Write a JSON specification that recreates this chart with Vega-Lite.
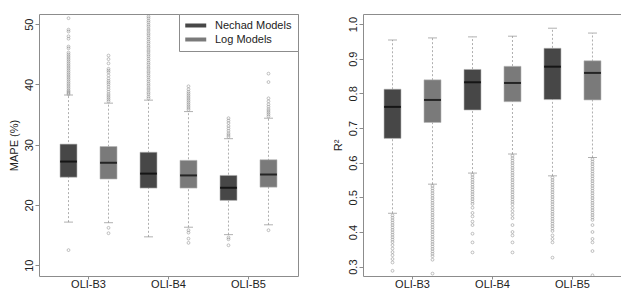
{
  "$schema": "https://vega.github.io/schema/vega-lite/v6.json",
  "padding": {"left": 7, "top": 13, "right": 0, "bottom": 0},
  "spacing": 32,
  "background": "white",
  "config": {
    "font": "Liberation Sans",
    "view": {"stroke": "#8c8c8c", "strokeWidth": 1},
    "axis": {"domain": false, "grid": false, "tickColor": "#8c8c8c", "labelColor": "#222", "titleColor": "#222", "labelFontSize": 11, "titleFontSize": 11, "titleFontWeight": "normal", "labelFont": "Liberation Sans", "titleFont": "Liberation Sans", "labelOverlap": false}
  },
  "resolve": {"scale": {"color": "independent"}},
  "datasets": {
    "mapeBox": [
      {"b": "OLI-B3", "m": "Nechad Models", "lo": 17.15, "q1": 24.6, "med": 27.2, "q3": 30.1, "hi": 38.25},
      {"b": "OLI-B3", "m": "Log Models", "lo": 17.05, "q1": 24.3, "med": 27.0, "q3": 29.7, "hi": 36.9},
      {"b": "OLI-B4", "m": "Nechad Models", "lo": 14.7, "q1": 22.8, "med": 25.2, "q3": 28.75, "hi": 37.4},
      {"b": "OLI-B4", "m": "Log Models", "lo": 16.3, "q1": 22.8, "med": 24.9, "q3": 27.4, "hi": 35.5},
      {"b": "OLI-B5", "m": "Nechad Models", "lo": 15.07, "q1": 20.75, "med": 22.85, "q3": 24.9, "hi": 31.0},
      {"b": "OLI-B5", "m": "Log Models", "lo": 16.7, "q1": 22.95, "med": 25.05, "q3": 27.5, "hi": 34.4}
    ],
    "r2Box": [
      {"b": "OLI-B3", "m": "Nechad Models", "lo": 0.454, "q1": 0.670, "med": 0.761, "q3": 0.812, "hi": 0.954},
      {"b": "OLI-B3", "m": "Log Models", "lo": 0.538, "q1": 0.716, "med": 0.781, "q3": 0.839, "hi": 0.960},
      {"b": "OLI-B4", "m": "Nechad Models", "lo": 0.570, "q1": 0.752, "med": 0.832, "q3": 0.869, "hi": 0.963},
      {"b": "OLI-B4", "m": "Log Models", "lo": 0.625, "q1": 0.776, "med": 0.830, "q3": 0.878, "hi": 0.965},
      {"b": "OLI-B5", "m": "Nechad Models", "lo": 0.562, "q1": 0.782, "med": 0.877, "q3": 0.930, "hi": 0.988},
      {"b": "OLI-B5", "m": "Log Models", "lo": 0.615, "q1": 0.781, "med": 0.859, "q3": 0.894, "hi": 0.974}
    ],
    "mapeOut": [
      {"b":"OLI-B3","m":"Nechad Models","v":38.4},{"b":"OLI-B3","m":"Nechad Models","v":38.6},{"b":"OLI-B3","m":"Nechad Models","v":38.8},{"b":"OLI-B3","m":"Nechad Models","v":39.0},{"b":"OLI-B3","m":"Nechad Models","v":39.3},{"b":"OLI-B3","m":"Nechad Models","v":39.6},{"b":"OLI-B3","m":"Nechad Models","v":39.9},{"b":"OLI-B3","m":"Nechad Models","v":40.2},{"b":"OLI-B3","m":"Nechad Models","v":40.5},{"b":"OLI-B3","m":"Nechad Models","v":40.8},{"b":"OLI-B3","m":"Nechad Models","v":41.1},{"b":"OLI-B3","m":"Nechad Models","v":41.4},{"b":"OLI-B3","m":"Nechad Models","v":41.7},{"b":"OLI-B3","m":"Nechad Models","v":42.0},{"b":"OLI-B3","m":"Nechad Models","v":42.3},{"b":"OLI-B3","m":"Nechad Models","v":42.6},{"b":"OLI-B3","m":"Nechad Models","v":42.9},{"b":"OLI-B3","m":"Nechad Models","v":43.2},{"b":"OLI-B3","m":"Nechad Models","v":43.5},{"b":"OLI-B3","m":"Nechad Models","v":43.8},{"b":"OLI-B3","m":"Nechad Models","v":44.1},{"b":"OLI-B3","m":"Nechad Models","v":44.4},{"b":"OLI-B3","m":"Nechad Models","v":44.7},{"b":"OLI-B3","m":"Nechad Models","v":45.0},{"b":"OLI-B3","m":"Nechad Models","v":45.3},{"b":"OLI-B3","m":"Nechad Models","v":46.0},{"b":"OLI-B3","m":"Nechad Models","v":46.3},{"b":"OLI-B3","m":"Nechad Models","v":47.6},{"b":"OLI-B3","m":"Nechad Models","v":48.0},{"b":"OLI-B3","m":"Nechad Models","v":48.8},{"b":"OLI-B3","m":"Nechad Models","v":49.1},{"b":"OLI-B3","m":"Nechad Models","v":51.0},{"b":"OLI-B3","m":"Nechad Models","v":12.5},
      {"b":"OLI-B3","m":"Log Models","v":37.2},{"b":"OLI-B3","m":"Log Models","v":37.5},{"b":"OLI-B3","m":"Log Models","v":37.8},{"b":"OLI-B3","m":"Log Models","v":38.1},{"b":"OLI-B3","m":"Log Models","v":38.4},{"b":"OLI-B3","m":"Log Models","v":38.8},{"b":"OLI-B3","m":"Log Models","v":39.2},{"b":"OLI-B3","m":"Log Models","v":39.6},{"b":"OLI-B3","m":"Log Models","v":40.0},{"b":"OLI-B3","m":"Log Models","v":40.3},{"b":"OLI-B3","m":"Log Models","v":40.6},{"b":"OLI-B3","m":"Log Models","v":41.0},{"b":"OLI-B3","m":"Log Models","v":41.5},{"b":"OLI-B3","m":"Log Models","v":42.0},{"b":"OLI-B3","m":"Log Models","v":42.3},{"b":"OLI-B3","m":"Log Models","v":42.6},{"b":"OLI-B3","m":"Log Models","v":43.5},{"b":"OLI-B3","m":"Log Models","v":44.2},{"b":"OLI-B3","m":"Log Models","v":44.8},{"b":"OLI-B3","m":"Log Models","v":16.2},{"b":"OLI-B3","m":"Log Models","v":15.3},
      {"b":"OLI-B4","m":"Nechad Models","v":37.7},{"b":"OLI-B4","m":"Nechad Models","v":38.0},{"b":"OLI-B4","m":"Nechad Models","v":38.4},{"b":"OLI-B4","m":"Nechad Models","v":38.7},{"b":"OLI-B4","m":"Nechad Models","v":39.1},{"b":"OLI-B4","m":"Nechad Models","v":39.4},{"b":"OLI-B4","m":"Nechad Models","v":39.8},{"b":"OLI-B4","m":"Nechad Models","v":40.1},{"b":"OLI-B4","m":"Nechad Models","v":40.5},{"b":"OLI-B4","m":"Nechad Models","v":40.8},{"b":"OLI-B4","m":"Nechad Models","v":41.2},{"b":"OLI-B4","m":"Nechad Models","v":41.5},{"b":"OLI-B4","m":"Nechad Models","v":41.9},{"b":"OLI-B4","m":"Nechad Models","v":42.2},{"b":"OLI-B4","m":"Nechad Models","v":42.6},{"b":"OLI-B4","m":"Nechad Models","v":42.9},{"b":"OLI-B4","m":"Nechad Models","v":43.3},{"b":"OLI-B4","m":"Nechad Models","v":43.6},{"b":"OLI-B4","m":"Nechad Models","v":44.0},{"b":"OLI-B4","m":"Nechad Models","v":44.3},{"b":"OLI-B4","m":"Nechad Models","v":44.7},{"b":"OLI-B4","m":"Nechad Models","v":45.0},{"b":"OLI-B4","m":"Nechad Models","v":45.4},{"b":"OLI-B4","m":"Nechad Models","v":45.7},{"b":"OLI-B4","m":"Nechad Models","v":46.1},{"b":"OLI-B4","m":"Nechad Models","v":46.4},{"b":"OLI-B4","m":"Nechad Models","v":46.8},{"b":"OLI-B4","m":"Nechad Models","v":47.1},{"b":"OLI-B4","m":"Nechad Models","v":47.5},{"b":"OLI-B4","m":"Nechad Models","v":47.8},{"b":"OLI-B4","m":"Nechad Models","v":48.2},{"b":"OLI-B4","m":"Nechad Models","v":48.5},{"b":"OLI-B4","m":"Nechad Models","v":48.9},{"b":"OLI-B4","m":"Nechad Models","v":49.2},{"b":"OLI-B4","m":"Nechad Models","v":49.6},{"b":"OLI-B4","m":"Nechad Models","v":49.9},{"b":"OLI-B4","m":"Nechad Models","v":50.3},{"b":"OLI-B4","m":"Nechad Models","v":50.6},{"b":"OLI-B4","m":"Nechad Models","v":51.0},{"b":"OLI-B4","m":"Nechad Models","v":51.3},
      {"b":"OLI-B4","m":"Log Models","v":35.8},{"b":"OLI-B4","m":"Log Models","v":36.1},{"b":"OLI-B4","m":"Log Models","v":36.4},{"b":"OLI-B4","m":"Log Models","v":36.7},{"b":"OLI-B4","m":"Log Models","v":37.0},{"b":"OLI-B4","m":"Log Models","v":37.3},{"b":"OLI-B4","m":"Log Models","v":37.6},{"b":"OLI-B4","m":"Log Models","v":37.9},{"b":"OLI-B4","m":"Log Models","v":38.2},{"b":"OLI-B4","m":"Log Models","v":38.5},{"b":"OLI-B4","m":"Log Models","v":38.8},{"b":"OLI-B4","m":"Log Models","v":39.2},{"b":"OLI-B4","m":"Log Models","v":39.7},{"b":"OLI-B4","m":"Log Models","v":15.8},{"b":"OLI-B4","m":"Log Models","v":15.4},{"b":"OLI-B4","m":"Log Models","v":14.4},{"b":"OLI-B4","m":"Log Models","v":13.7},
      {"b":"OLI-B5","m":"Nechad Models","v":31.3},{"b":"OLI-B5","m":"Nechad Models","v":31.6},{"b":"OLI-B5","m":"Nechad Models","v":31.9},{"b":"OLI-B5","m":"Nechad Models","v":32.3},{"b":"OLI-B5","m":"Nechad Models","v":32.7},{"b":"OLI-B5","m":"Nechad Models","v":33.1},{"b":"OLI-B5","m":"Nechad Models","v":33.6},{"b":"OLI-B5","m":"Nechad Models","v":34.0},{"b":"OLI-B5","m":"Nechad Models","v":34.4},{"b":"OLI-B5","m":"Nechad Models","v":14.6},{"b":"OLI-B5","m":"Nechad Models","v":14.3},{"b":"OLI-B5","m":"Nechad Models","v":13.3},
      {"b":"OLI-B5","m":"Log Models","v":34.7},{"b":"OLI-B5","m":"Log Models","v":35.0},{"b":"OLI-B5","m":"Log Models","v":35.3},{"b":"OLI-B5","m":"Log Models","v":35.6},{"b":"OLI-B5","m":"Log Models","v":35.9},{"b":"OLI-B5","m":"Log Models","v":36.3},{"b":"OLI-B5","m":"Log Models","v":36.7},{"b":"OLI-B5","m":"Log Models","v":37.2},{"b":"OLI-B5","m":"Log Models","v":37.7},{"b":"OLI-B5","m":"Log Models","v":40.4},{"b":"OLI-B5","m":"Log Models","v":41.8},{"b":"OLI-B5","m":"Log Models","v":15.8}
    ],
    "r2Out": [
      {"b":"OLI-B3","m":"Nechad Models","v":0.448},{"b":"OLI-B3","m":"Nechad Models","v":0.441},{"b":"OLI-B3","m":"Nechad Models","v":0.434},{"b":"OLI-B3","m":"Nechad Models","v":0.427},{"b":"OLI-B3","m":"Nechad Models","v":0.420},{"b":"OLI-B3","m":"Nechad Models","v":0.413},{"b":"OLI-B3","m":"Nechad Models","v":0.406},{"b":"OLI-B3","m":"Nechad Models","v":0.399},{"b":"OLI-B3","m":"Nechad Models","v":0.392},{"b":"OLI-B3","m":"Nechad Models","v":0.385},{"b":"OLI-B3","m":"Nechad Models","v":0.378},{"b":"OLI-B3","m":"Nechad Models","v":0.371},{"b":"OLI-B3","m":"Nechad Models","v":0.362},{"b":"OLI-B3","m":"Nechad Models","v":0.352},{"b":"OLI-B3","m":"Nechad Models","v":0.342},{"b":"OLI-B3","m":"Nechad Models","v":0.333},{"b":"OLI-B3","m":"Nechad Models","v":0.322},{"b":"OLI-B3","m":"Nechad Models","v":0.312},{"b":"OLI-B3","m":"Nechad Models","v":0.288},
      {"b":"OLI-B3","m":"Log Models","v":0.533},{"b":"OLI-B3","m":"Log Models","v":0.526},{"b":"OLI-B3","m":"Log Models","v":0.519},{"b":"OLI-B3","m":"Log Models","v":0.512},{"b":"OLI-B3","m":"Log Models","v":0.505},{"b":"OLI-B3","m":"Log Models","v":0.498},{"b":"OLI-B3","m":"Log Models","v":0.491},{"b":"OLI-B3","m":"Log Models","v":0.484},{"b":"OLI-B3","m":"Log Models","v":0.477},{"b":"OLI-B3","m":"Log Models","v":0.470},{"b":"OLI-B3","m":"Log Models","v":0.463},{"b":"OLI-B3","m":"Log Models","v":0.456},{"b":"OLI-B3","m":"Log Models","v":0.449},{"b":"OLI-B3","m":"Log Models","v":0.442},{"b":"OLI-B3","m":"Log Models","v":0.435},{"b":"OLI-B3","m":"Log Models","v":0.428},{"b":"OLI-B3","m":"Log Models","v":0.421},{"b":"OLI-B3","m":"Log Models","v":0.414},{"b":"OLI-B3","m":"Log Models","v":0.407},{"b":"OLI-B3","m":"Log Models","v":0.400},{"b":"OLI-B3","m":"Log Models","v":0.393},{"b":"OLI-B3","m":"Log Models","v":0.386},{"b":"OLI-B3","m":"Log Models","v":0.379},{"b":"OLI-B3","m":"Log Models","v":0.372},{"b":"OLI-B3","m":"Log Models","v":0.365},{"b":"OLI-B3","m":"Log Models","v":0.358},{"b":"OLI-B3","m":"Log Models","v":0.351},{"b":"OLI-B3","m":"Log Models","v":0.344},{"b":"OLI-B3","m":"Log Models","v":0.337},{"b":"OLI-B3","m":"Log Models","v":0.330},{"b":"OLI-B3","m":"Log Models","v":0.320},{"b":"OLI-B3","m":"Log Models","v":0.280},
      {"b":"OLI-B4","m":"Nechad Models","v":0.565},{"b":"OLI-B4","m":"Nechad Models","v":0.558},{"b":"OLI-B4","m":"Nechad Models","v":0.551},{"b":"OLI-B4","m":"Nechad Models","v":0.544},{"b":"OLI-B4","m":"Nechad Models","v":0.537},{"b":"OLI-B4","m":"Nechad Models","v":0.530},{"b":"OLI-B4","m":"Nechad Models","v":0.523},{"b":"OLI-B4","m":"Nechad Models","v":0.516},{"b":"OLI-B4","m":"Nechad Models","v":0.509},{"b":"OLI-B4","m":"Nechad Models","v":0.502},{"b":"OLI-B4","m":"Nechad Models","v":0.495},{"b":"OLI-B4","m":"Nechad Models","v":0.488},{"b":"OLI-B4","m":"Nechad Models","v":0.481},{"b":"OLI-B4","m":"Nechad Models","v":0.470},{"b":"OLI-B4","m":"Nechad Models","v":0.455},{"b":"OLI-B4","m":"Nechad Models","v":0.445},{"b":"OLI-B4","m":"Nechad Models","v":0.430},{"b":"OLI-B4","m":"Nechad Models","v":0.420},{"b":"OLI-B4","m":"Nechad Models","v":0.395},{"b":"OLI-B4","m":"Nechad Models","v":0.370},{"b":"OLI-B4","m":"Nechad Models","v":0.341},
      {"b":"OLI-B4","m":"Log Models","v":0.620},{"b":"OLI-B4","m":"Log Models","v":0.613},{"b":"OLI-B4","m":"Log Models","v":0.606},{"b":"OLI-B4","m":"Log Models","v":0.599},{"b":"OLI-B4","m":"Log Models","v":0.592},{"b":"OLI-B4","m":"Log Models","v":0.585},{"b":"OLI-B4","m":"Log Models","v":0.578},{"b":"OLI-B4","m":"Log Models","v":0.571},{"b":"OLI-B4","m":"Log Models","v":0.564},{"b":"OLI-B4","m":"Log Models","v":0.557},{"b":"OLI-B4","m":"Log Models","v":0.550},{"b":"OLI-B4","m":"Log Models","v":0.543},{"b":"OLI-B4","m":"Log Models","v":0.536},{"b":"OLI-B4","m":"Log Models","v":0.529},{"b":"OLI-B4","m":"Log Models","v":0.522},{"b":"OLI-B4","m":"Log Models","v":0.515},{"b":"OLI-B4","m":"Log Models","v":0.508},{"b":"OLI-B4","m":"Log Models","v":0.501},{"b":"OLI-B4","m":"Log Models","v":0.494},{"b":"OLI-B4","m":"Log Models","v":0.487},{"b":"OLI-B4","m":"Log Models","v":0.480},{"b":"OLI-B4","m":"Log Models","v":0.470},{"b":"OLI-B4","m":"Log Models","v":0.460},{"b":"OLI-B4","m":"Log Models","v":0.450},{"b":"OLI-B4","m":"Log Models","v":0.440},{"b":"OLI-B4","m":"Log Models","v":0.420},{"b":"OLI-B4","m":"Log Models","v":0.400},{"b":"OLI-B4","m":"Log Models","v":0.390},{"b":"OLI-B4","m":"Log Models","v":0.370},{"b":"OLI-B4","m":"Log Models","v":0.341},
      {"b":"OLI-B5","m":"Nechad Models","v":0.557},{"b":"OLI-B5","m":"Nechad Models","v":0.550},{"b":"OLI-B5","m":"Nechad Models","v":0.543},{"b":"OLI-B5","m":"Nechad Models","v":0.536},{"b":"OLI-B5","m":"Nechad Models","v":0.529},{"b":"OLI-B5","m":"Nechad Models","v":0.522},{"b":"OLI-B5","m":"Nechad Models","v":0.515},{"b":"OLI-B5","m":"Nechad Models","v":0.508},{"b":"OLI-B5","m":"Nechad Models","v":0.501},{"b":"OLI-B5","m":"Nechad Models","v":0.494},{"b":"OLI-B5","m":"Nechad Models","v":0.487},{"b":"OLI-B5","m":"Nechad Models","v":0.480},{"b":"OLI-B5","m":"Nechad Models","v":0.473},{"b":"OLI-B5","m":"Nechad Models","v":0.466},{"b":"OLI-B5","m":"Nechad Models","v":0.459},{"b":"OLI-B5","m":"Nechad Models","v":0.452},{"b":"OLI-B5","m":"Nechad Models","v":0.445},{"b":"OLI-B5","m":"Nechad Models","v":0.438},{"b":"OLI-B5","m":"Nechad Models","v":0.431},{"b":"OLI-B5","m":"Nechad Models","v":0.424},{"b":"OLI-B5","m":"Nechad Models","v":0.417},{"b":"OLI-B5","m":"Nechad Models","v":0.410},{"b":"OLI-B5","m":"Nechad Models","v":0.403},{"b":"OLI-B5","m":"Nechad Models","v":0.390},{"b":"OLI-B5","m":"Nechad Models","v":0.380},{"b":"OLI-B5","m":"Nechad Models","v":0.370},{"b":"OLI-B5","m":"Nechad Models","v":0.326},
      {"b":"OLI-B5","m":"Log Models","v":0.610},{"b":"OLI-B5","m":"Log Models","v":0.603},{"b":"OLI-B5","m":"Log Models","v":0.596},{"b":"OLI-B5","m":"Log Models","v":0.589},{"b":"OLI-B5","m":"Log Models","v":0.582},{"b":"OLI-B5","m":"Log Models","v":0.575},{"b":"OLI-B5","m":"Log Models","v":0.568},{"b":"OLI-B5","m":"Log Models","v":0.561},{"b":"OLI-B5","m":"Log Models","v":0.554},{"b":"OLI-B5","m":"Log Models","v":0.547},{"b":"OLI-B5","m":"Log Models","v":0.540},{"b":"OLI-B5","m":"Log Models","v":0.533},{"b":"OLI-B5","m":"Log Models","v":0.526},{"b":"OLI-B5","m":"Log Models","v":0.519},{"b":"OLI-B5","m":"Log Models","v":0.512},{"b":"OLI-B5","m":"Log Models","v":0.505},{"b":"OLI-B5","m":"Log Models","v":0.498},{"b":"OLI-B5","m":"Log Models","v":0.491},{"b":"OLI-B5","m":"Log Models","v":0.484},{"b":"OLI-B5","m":"Log Models","v":0.477},{"b":"OLI-B5","m":"Log Models","v":0.470},{"b":"OLI-B5","m":"Log Models","v":0.463},{"b":"OLI-B5","m":"Log Models","v":0.456},{"b":"OLI-B5","m":"Log Models","v":0.449},{"b":"OLI-B5","m":"Log Models","v":0.442},{"b":"OLI-B5","m":"Log Models","v":0.435},{"b":"OLI-B5","m":"Log Models","v":0.420},{"b":"OLI-B5","m":"Log Models","v":0.400},{"b":"OLI-B5","m":"Log Models","v":0.380},{"b":"OLI-B5","m":"Log Models","v":0.370},{"b":"OLI-B5","m":"Log Models","v":0.345},{"b":"OLI-B5","m":"Log Models","v":0.275}
    ]
  },
  "hconcat": [
    {
      "width": 259,
      "height": 262,
      "encoding": {
        "x": {"field": "b", "type": "nominal", "title": null, "scale": {"paddingInner": 0, "paddingOuter": 0.119}, "axis": {"labelAngle": 0, "tickSize": 3, "labelPadding": -1}},
        "xOffset": {"field": "m", "type": "nominal", "scale": {"domain": ["Nechad Models", "Log Models"], "paddingInner": 0.575, "paddingOuter": 0.2875}}
      },
      "layer": [
        {
          "data": {"name": "mapeBox"},
          "mark": {"type": "rule", "color": "#9a9a9a", "strokeWidth": 0.8, "strokeDash": [2, 2]},
          "encoding": {
            "y": {"field": "lo", "type": "quantitative", "title": "MAPE (%)", "scale": {"domain": [8.2, 51.7], "nice": false, "zero": false}, "axis": {"values": [10, 20, 30, 40, 50], "labelAngle": 270, "labelAlign": "center", "labelBaseline": "bottom", "labelOverlap": false, "tickSize": 4, "labelPadding": 1, "titlePadding": 4}},
            "y2": {"field": "hi"}
          }
        },
        {
          "data": {"name": "mapeBox"},
          "mark": {"type": "tick", "color": "#8f8f8f", "size": 9, "thickness": 1},
          "encoding": {"y": {"field": "lo", "type": "quantitative"}}
        },
        {
          "data": {"name": "mapeBox"},
          "mark": {"type": "tick", "color": "#8f8f8f", "size": 9, "thickness": 1},
          "encoding": {"y": {"field": "hi", "type": "quantitative"}}
        },
        {
          "data": {"name": "mapeOut"},
          "mark": {"type": "point", "shape": "circle", "filled": false, "size": 8, "stroke": "#808080", "strokeWidth": 0.7, "clip": true},
          "encoding": {"y": {"field": "v", "type": "quantitative"}}
        },
        {
          "data": {"name": "mapeBox"},
          "mark": {"type": "bar", "stroke": "#b5b5b5", "strokeWidth": 0.6},
          "encoding": {
            "y": {"field": "q1", "type": "quantitative"},
            "y2": {"field": "q3"},
            "color": {
              "field": "m", "type": "nominal",
              "scale": {"domain": ["Nechad Models", "Log Models"], "range": ["#474747", "#7a7a7a"]},
              "legend": {
                "title": null, "orient": "top-right", "offset": 0,
                "symbolType": "M-1,-0.38H3V0.38H-1Z", "symbolSize": 110, "symbolStrokeWidth": 0, "symbolOpacity": 1,
                "labelFontSize": 11, "labelColor": "#222", "labelOffset": 19,
                "padding": 6, "rowPadding": 2,
                "strokeColor": "#8c8c8c", "fillColor": "white"
              }
            }
          }
        },
        {
          "data": {"name": "mapeBox"},
          "mark": {"type": "tick", "color": "black", "size": 17, "thickness": 2},
          "encoding": {"y": {"field": "med", "type": "quantitative"}}
        }
      ]
    },
    {
      "width": 259,
      "height": 262,
      "encoding": {
        "x": {"field": "b", "type": "nominal", "title": null, "scale": {"paddingInner": 0, "paddingOuter": 0.119}, "axis": {"labelAngle": 0, "tickSize": 3, "labelPadding": -1}},
        "xOffset": {"field": "m", "type": "nominal", "scale": {"domain": ["Nechad Models", "Log Models"], "paddingInner": 0.575, "paddingOuter": 0.2875}}
      },
      "layer": [
        {
          "data": {"name": "r2Box"},
          "mark": {"type": "rule", "color": "#9a9a9a", "strokeWidth": 0.8, "strokeDash": [2, 2]},
          "encoding": {
            "y": {"field": "lo", "type": "quantitative", "title": "R²", "scale": {"domain": [0.273, 1.029], "nice": false, "zero": false}, "axis": {"values": [0.3, 0.4, 0.5, 0.6, 0.7, 0.8, 0.9, 1.0], "format": ".1f", "labelAngle": 270, "labelAlign": "center", "labelBaseline": "bottom", "labelOverlap": false, "tickSize": 4, "labelPadding": 1, "titlePadding": 4}},
            "y2": {"field": "hi"}
          }
        },
        {
          "data": {"name": "r2Box"},
          "mark": {"type": "tick", "color": "#8f8f8f", "size": 9, "thickness": 1},
          "encoding": {"y": {"field": "lo", "type": "quantitative", "title": "R²", "axis": {"values": [0.3, 0.4, 0.5, 0.6, 0.7, 0.8, 0.9, 1.0], "format": ".1f", "labelAngle": 270, "labelAlign": "center", "labelBaseline": "bottom", "labelOverlap": false, "tickSize": 4, "labelPadding": 1, "titlePadding": 4}}}
        },
        {
          "data": {"name": "r2Box"},
          "mark": {"type": "tick", "color": "#8f8f8f", "size": 9, "thickness": 1},
          "encoding": {"y": {"field": "hi", "type": "quantitative", "title": "R²", "axis": {"values": [0.3, 0.4, 0.5, 0.6, 0.7, 0.8, 0.9, 1.0], "format": ".1f", "labelAngle": 270, "labelAlign": "center", "labelBaseline": "bottom", "labelOverlap": false, "tickSize": 4, "labelPadding": 1, "titlePadding": 4}}}
        },
        {
          "data": {"name": "r2Out"},
          "mark": {"type": "point", "shape": "circle", "filled": false, "size": 8, "stroke": "#808080", "strokeWidth": 0.7, "clip": true},
          "encoding": {"y": {"field": "v", "type": "quantitative", "title": "R²", "axis": {"values": [0.3, 0.4, 0.5, 0.6, 0.7, 0.8, 0.9, 1.0], "format": ".1f", "labelAngle": 270, "labelAlign": "center", "labelBaseline": "bottom", "labelOverlap": false, "tickSize": 4, "labelPadding": 1, "titlePadding": 4}}}
        },
        {
          "data": {"name": "r2Box"},
          "mark": {"type": "bar", "stroke": "#b5b5b5", "strokeWidth": 0.6},
          "encoding": {
            "y": {"field": "q1", "type": "quantitative", "title": "R²", "axis": {"values": [0.3, 0.4, 0.5, 0.6, 0.7, 0.8, 0.9, 1.0], "format": ".1f", "labelAngle": 270, "labelAlign": "center", "labelBaseline": "bottom", "labelOverlap": false, "tickSize": 4, "labelPadding": 1, "titlePadding": 4}},
            "y2": {"field": "q3"},
            "color": {"field": "m", "type": "nominal", "scale": {"domain": ["Nechad Models", "Log Models"], "range": ["#474747", "#7a7a7a"]}, "legend": null}
          }
        },
        {
          "data": {"name": "r2Box"},
          "mark": {"type": "tick", "color": "black", "size": 17, "thickness": 2},
          "encoding": {"y": {"field": "med", "type": "quantitative", "title": "R²", "axis": {"values": [0.3, 0.4, 0.5, 0.6, 0.7, 0.8, 0.9, 1.0], "format": ".1f", "labelAngle": 270, "labelAlign": "center", "labelBaseline": "bottom", "labelOverlap": false, "tickSize": 4, "labelPadding": 1, "titlePadding": 4}}}
        }
      ]
    }
  ]
}
